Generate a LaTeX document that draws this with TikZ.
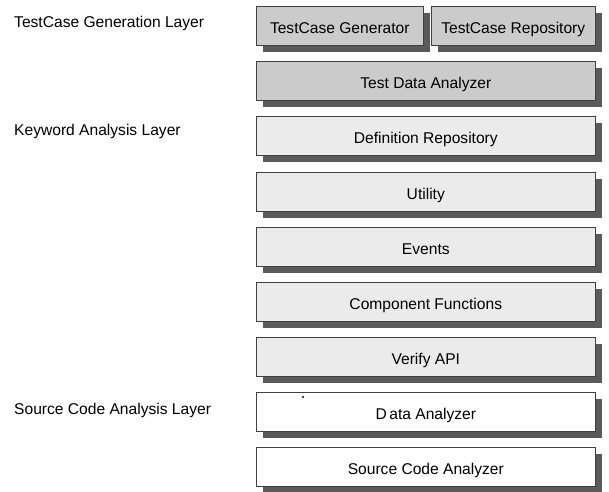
\documentclass[tikz,border=0pt]{standalone}
\usepackage{fontspec}
\setmainfont{Liberation Sans}
\usetikzlibrary{shadows}
\definecolor{darkbox}{HTML}{CBCBCB}
\definecolor{lightbox}{HTML}{EBEBEB}
\definecolor{shade}{HTML}{5A5A5A}
\tikzset{
  layerbox/.style={draw=black!75, line width=0.6pt, anchor=north west,
    minimum height=39pt, inner sep=0pt, text height=16pt, text depth=1.5pt,
    font=\fontsize{15.6}{17}\selectfont,
    drop shadow={shadow xshift=7pt, shadow yshift=-7pt, fill=shade, opacity=1}},
  widebox/.style={layerbox, minimum width=339pt},
  genbox/.style={fill=darkbox},
  kwbox/.style={fill=lightbox},
  srcbox/.style={fill=white},
  layerlabel/.style={anchor=west, inner sep=0pt, font=\fontsize{15.6}{17}\selectfont}
}
\begin{document}
\begin{tikzpicture}[x=1pt,y=1pt]
\useasboundingbox[fill=white] (0,0) rectangle (609,-491);
% layer labels
\node[layerlabel] (l1) at (14,-23) {TestCase Generation Layer};
\node[layerlabel] (l2) at (14,-131) {Keyword Analysis Layer};
\node[layerlabel] (l3) at (14,-410) {Source Code Analysis Layer};
% generation layer
\node[layerbox, genbox, minimum width=167pt] (gen) at (256,-6) {TestCase Generator};
\node[layerbox, genbox, minimum width=164pt] (repo) at (431,-6) {TestCase Repository};
\node[widebox, genbox] (tda) at (256,-61) {Test Data Analyzer};
% keyword layer
\node[widebox, kwbox] (def) at (256,-116) {Definition Repository};
\node[widebox, kwbox] (util) at (256,-172) {Utility};
\node[widebox, kwbox] (ev) at (256,-227) {Events};
\node[widebox, kwbox] (comp) at (256,-282) {Component Functions};
\node[widebox, kwbox] (ver) at (256,-337) {Verify API};
% source layer
\node[widebox, srcbox] (da) at (256,-392) {D\,ata Analyzer};
\node[widebox, srcbox] (sca) at (256,-447) {Source Code Analyzer};
\fill (303,-397) circle (1.1pt);
\end{tikzpicture}
\end{document}
